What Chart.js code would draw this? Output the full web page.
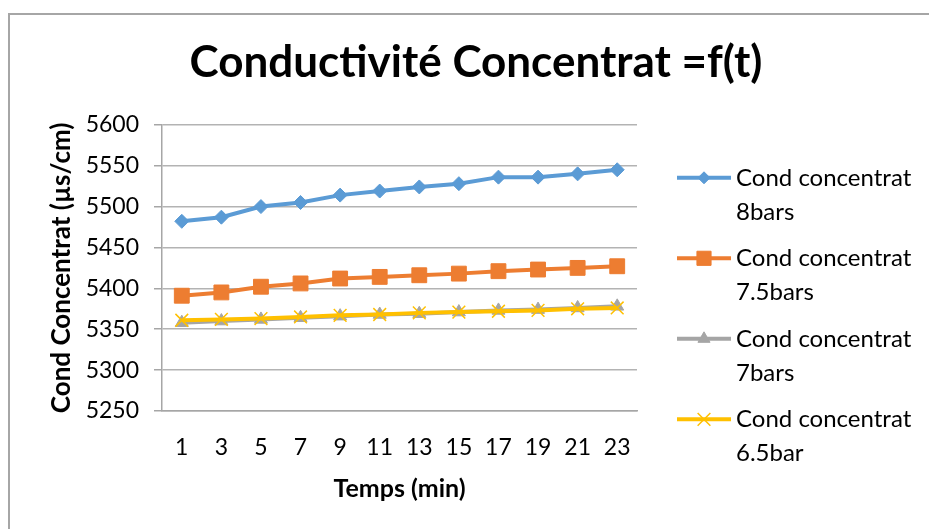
<!DOCTYPE html>
<html>
<head>
<meta charset="utf-8">
<script src="https://cdn.jsdelivr.net/npm/chart.js@4.4.1/dist/chart.umd.min.js"></script>
<style>
  html, body { margin: 0; padding: 0; background: #fff; }
  #wrap { position: relative; width: 929px; height: 529px; overflow: hidden; }
  #frame { position: absolute; left: 8px; top: 13px; width: 1000px; height: 1000px;
           border-left: 2px solid #a6a6a6; border-top: 2px solid #a6a6a6; pointer-events: none; }
  canvas { position: absolute; left: 0; top: 0; }
</style>
</head>
<body>
<div id="wrap">
  <canvas id="condChart" width="929" height="529"></canvas>
  <div id="frame"></div>
</div>
<script>
// Temps (min)
const temps = ['1', '3', '5', '7', '9', '11', '13', '15', '17', '19', '21', '23'];

// Conductivité concentrat (µs/cm)
const cond8bars   = [5482, 5487, 5500, 5505, 5514, 5519, 5524, 5528, 5536, 5536, 5540, 5545];
const cond75bars  = [5391, 5395, 5402, 5406, 5412, 5414, 5416, 5418, 5421, 5423, 5425, 5427];
const cond7bars   = [5358, 5360, 5362, 5364, 5366, 5368, 5369, 5371, 5373, 5374, 5376, 5378];
const cond65bar   = [5361, 5362, 5363, 5365, 5367, 5368, 5370, 5371, 5372, 5373, 5375, 5376];

const seriesNames = [
    ['Cond concentrat', '8bars'],
    ['Cond concentrat', '7.5bars'],
    ['Cond concentrat', '7bars'],
    ['Cond concentrat', '6.5bar']
];

const FONT = 'Lato, "Open Sans", sans-serif';

// légende à droite, sur deux lignes par série
const sideLegend = {
    id: 'sideLegend',
    afterDraw(chart) {
        const ctx = chart.ctx;
        const area = chart.chartArea;
        const x0 = area.right + 40;
        const lineLen = 54;
        ctx.save();
        chart.data.datasets.forEach((ds, i) => {
            const y = area.top + 53 + i * 80.5;
            ctx.strokeStyle = ds.borderColor;
            ctx.lineWidth = ds.borderWidth;
            ctx.beginPath();
            ctx.moveTo(x0, y);
            ctx.lineTo(x0 + lineLen, y);
            ctx.stroke();
            ctx.fillStyle = ds.borderColor;
            ctx.lineWidth = ds.pointBorderWidth;
            Chart.helpers.drawPoint(ctx, {
                pointStyle: ds.pointStyle,
                radius: ds.legendRadius,
                borderWidth: ds.pointBorderWidth
            }, x0 + lineLen / 2, y);
            ctx.fillStyle = '#000';
            ctx.font = '24px ' + FONT;
            ctx.textAlign = 'left';
            ctx.textBaseline = 'middle';
            const lines = seriesNames[i];
            ctx.fillText(lines[0], x0 + lineLen + 5, y);
            ctx.fillText(lines[1], x0 + lineLen + 5, y + 34);
        });
        ctx.restore();
    }
};

function lineSet(label, data, color, style, radius, legendRadius, order) {
    return {
        label: label,
        data: data,
        borderColor: color,
        backgroundColor: color,
        pointBackgroundColor: color,
        pointBorderColor: color,
        borderWidth: 4,
        pointStyle: style,
        pointRadius: radius,
        pointHoverRadius: radius,
        pointBorderWidth: style === 'crossRot' ? 1.5 : 1,
        legendRadius: legendRadius,
        tension: 0,
        fill: false,
        order: order
    };
}

document.addEventListener('DOMContentLoaded', function() {
    const ctx = document.getElementById('condChart').getContext('2d');
    new Chart(ctx, {
        type: 'line',
        data: {
            labels: temps,
            datasets: [
                lineSet(seriesNames[0].join(' '), cond8bars, '#5B9BD5', 'rectRot', 7, 6, 3),
                lineSet(seriesNames[1].join(' '), cond75bars, '#ED7D31', 'rect', 10.5, 10, 2),
                lineSet(seriesNames[2].join(' '), cond7bars, '#A5A5A5', 'triangle', 7.5, 7, 1),
                lineSet(seriesNames[3].join(' '), cond65bar, '#FFC000', 'crossRot', 9, 9, 0)
            ]
        },
        options: {
            responsive: false,
            animation: false,
            devicePixelRatio: 1,
            layout: { padding: { left: 23, top: 0, right: 0, bottom: 0 } },
            plugins: {
                legend: { display: false },
                tooltip: { enabled: false },
                title: {
                    display: true,
                    text: 'Conductivité Concentrat =f(t)',
                    color: '#000',
                    font: { family: FONT, size: 44, weight: 'bold' },
                    padding: { top: 36, bottom: 36 }
                }
            },
            scales: {
                x: {
                    offset: true,
                    grid: { display: false, drawTicks: false },
                    border: { display: true, color: '#a6a6a6', width: 1.5 },
                    ticks: { color: '#000', font: { family: FONT, size: 23 }, padding: 23, maxRotation: 0, autoSkip: false },
                    title: {
                        display: true,
                        text: 'Temps (min)',
                        color: '#000',
                        font: { family: FONT, size: 25, weight: 'bold' },
                        padding: { top: 0, bottom: 25 }
                    },
                    afterFit: function(scale) { scale.height = 118; }
                },
                y: {
                    min: 5250,
                    max: 5600,
                    ticks: {
                        stepSize: 50, color: '#000', font: { family: FONT, size: 23 }, padding: 15,
                        callback: function(value) { return String(value); }
                    },
                    grid: { color: '#b3b3b3', lineWidth: 1.5, tickLength: 8, tickColor: '#a6a6a6' },
                    border: { display: true, color: '#a6a6a6', width: 1.5 },
                    title: {
                        display: true,
                        text: 'Cond Concentrat (µs/cm)',
                        color: '#000',
                        font: { family: FONT, size: 26, weight: 'bold' },
                        padding: { top: 23, bottom: 0 }
                    },
                    afterFit: function(scale) { scale.width = 139; }
                },
                legendSpace: {
                    type: 'linear',
                    position: 'right',
                    display: true,
                    grid: { display: false, drawTicks: false },
                    border: { display: false },
                    ticks: { display: false },
                    afterFit: function(scale) { scale.width = 292; }
                }
            }
        },
        plugins: [sideLegend]
    });
});
</script>
</body>
</html>
